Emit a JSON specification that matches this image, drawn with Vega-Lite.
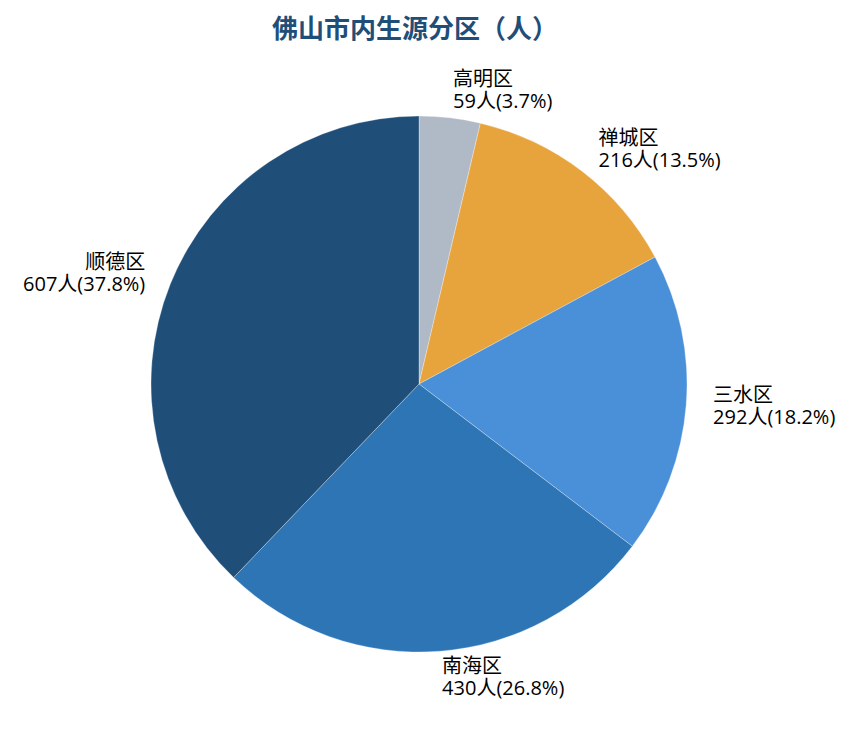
{
  "$schema": "https://vega.github.io/schema/vega-lite/v6.json",
  "width": 838,
  "height": 668,
  "autosize": "none",
  "padding": {"top": 50, "left": 0, "right": 21, "bottom": 16},
  "background": "white",
  "title": {
    "text": "佛山市内生源分区（人）",
    "font": "Noto Sans CJK SC",
    "fontSize": 26,
    "fontWeight": "bold",
    "color": "#1f4e79",
    "anchor": "middle",
    "offset": 7,
    "dx": -4
  },
  "data": {
    "values": [
      {"district": "高明区", "count": 59, "label": "高明区\n59人(3.7%)", "side": "right"},
      {"district": "禅城区", "count": 216, "label": "禅城区\n216人(13.5%)", "side": "right"},
      {"district": "三水区", "count": 292, "label": "三水区\n292人(18.2%)", "side": "right"},
      {"district": "南海区", "count": 430, "label": "南海区\n430人(26.8%)", "side": "right"},
      {"district": "顺德区", "count": 607, "label": "顺德区\n607人(37.8%)", "side": "left"}
    ]
  },
  "transform": [
    {"window": [{"op": "row_number", "as": "order"}]}
  ],
  "encoding": {
    "theta": {"field": "count", "type": "quantitative", "stack": true},
    "order": {"field": "order", "type": "quantitative"}
  },
  "layer": [
    {
      "mark": {"type": "arc", "outerRadius": 268, "stroke": "white", "strokeWidth": 0.3},
      "encoding": {
        "color": {
          "field": "district",
          "type": "nominal",
          "sort": null,
          "scale": {
            "domain": ["高明区", "禅城区", "三水区", "南海区", "顺德区"],
            "range": ["#b0b9c6", "#e8a43c", "#4a90d9", "#2e75b6", "#1f4e79"]
          },
          "legend": null
        }
      }
    },
    {
      "mark": {
        "type": "text",
        "radius": 295,
        "align": {"expr": "datum.side == 'left' ? 'right' : 'left'"},
        "baseline": "middle",
        "lineBreak": "\n",
        "lineHeight": 22,
        "dy": -11,
        "font": "Open Sans, Noto Sans CJK SC",
        "fontSize": 20,
        "color": "black"
      },
      "encoding": {"text": {"field": "label", "type": "nominal"}}
    }
  ]
}
